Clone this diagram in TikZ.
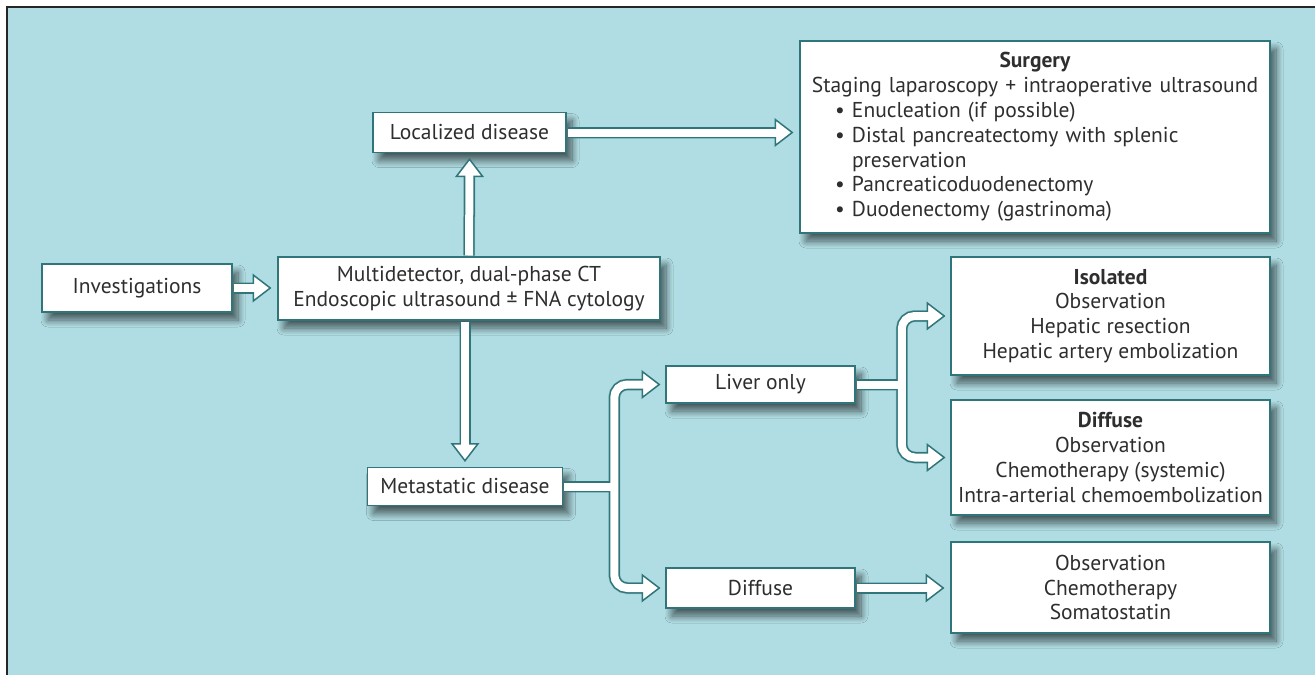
\documentclass[tikz,border=0pt]{standalone}
\usepackage{fontspec}
\setmainfont{PT Sans}
\usetikzlibrary{calc,shadows.blur}
\definecolor{bg}{HTML}{B0DDE3}
\definecolor{edge}{HTML}{2F7579}
\definecolor{shade}{HTML}{3C8A8F}
\definecolor{txt}{HTML}{2E2E2E}
\newcommand\headR[1]{\draw[headst] (#1) -- ++(-17,-13) -- ++(0,26) -- cycle;}
\newcommand\headU[1]{\draw[headst] (#1) -- ++(-13,17) -- ++(26,0) -- cycle;}
\newcommand\headD[1]{\draw[headst] (#1) -- ++(-13,-17) -- ++(26,0) -- cycle;}
\newcommand\shR[1]{\fill[shade,opacity=0.35] (#1) -- ++(-17,-13) -- ++(0,26) -- cycle;}
\newcommand\shU[1]{\fill[shade,opacity=0.35] (#1) -- ++(-13,17) -- ++(26,0) -- cycle;}
\newcommand\shD[1]{\fill[shade,opacity=0.35] (#1) -- ++(-13,-17) -- ++(26,0) -- cycle;}
\newcommand\bul{\hspace*{35pt}\makebox[17pt][l]{\textbullet}}
\tikzset{
  box/.style={draw=edge, fill=white, line width=1.5pt, inner sep=0pt, align=center,
    text=txt, font=\fontsize{21.5}{24.8}\selectfont,
    blur shadow={shadow xshift=6pt, shadow yshift=-8pt, shadow blur radius=7pt,
      shadow blur steps=12, shadow opacity=60}},
  shaftout/.style={draw=edge, line width=11pt, rounded corners=13pt},
  shaftin/.style={draw=white, line width=8pt, rounded corners=13pt},
  shaftsh/.style={draw=shade, line width=12pt, opacity=0.4, rounded corners=13pt},
  headst/.style={draw=edge, fill=white, line width=1.5pt, line join=miter},
}
\begin{document}
\begin{tikzpicture}[x=1pt,y=-1pt]
\useasboundingbox (0,0) rectangle (1315,675);
\fill[bg] (7,7) rectangle (1315,675);
\draw[black!85, line width=2.5pt] (7,675) -- (7,7) -- (1315,7);

% boxes
\node[box, minimum width=190, minimum height=48] (inv) at (137,288) {Investigations};
\node[box, minimum width=382, minimum height=63] (mdct) at (469,288.5)
  {Multidetector, dual-phase CT\\Endoscopic ultrasound ± FNA cytology};
\node[box, minimum width=193, minimum height=40] (loc) at (469.5,132.5) {Localized disease};
\node[box, minimum width=470, minimum height=192, text width=470, align=left] (surg) at (1035,137)
  {\makebox[470pt][c]{\textbf{Surgery}}\\
   \makebox[470pt][c]{Staging laparoscopy + intraoperative ultrasound}\\
   \bul Enucleation (if possible)\\
   \bul Distal pancreatectomy with splenic\\
   \hspace*{52pt}preservation\\
   \bul Pancreaticoduodenectomy\\
   \bul Duodenectomy (gastrinoma)};
\node[box, minimum width=195, minimum height=38] (met) at (465,486.5) {Metastatic disease};
\node[box, minimum width=189, minimum height=37] (liver) at (760.5,384.5) {Liver only};
\node[box, minimum width=189, minimum height=40] (diff) at (760.5,588) {Diffuse};
\node[box, minimum width=319, minimum height=118] (iso) at (1110.5,316)
  {\textbf{Isolated}\\Observation\\Hepatic resection\\Hepatic artery embolization};
\node[box, minimum width=319, minimum height=115] (dbox) at (1110.5,457.5)
  {\textbf{Diffuse}\\Observation\\Chemotherapy (systemic)\\Intra-arterial chemoembolization};
\node[box, minimum width=319, minimum height=91] (other) at (1110.5,587.5)
  {Observation\\Chemotherapy\\Somatostatin};

% key points
\coordinate (aS) at ($(inv.east)+(0.75,0)$);
\coordinate (aT) at ($(mdct.west |- inv.east)+(-7,0)$);
\coordinate (bS) at ($(mdct.north)+(0,-0.75)$);
\coordinate (bT) at ($(loc.south)+(0,6)$);
\coordinate (cS) at ($(mdct.south -| met.north)+(0,0.75)$);
\coordinate (cT) at ($(met.north)+(0,-6)$);
\coordinate (dS) at ($(loc.east)+(0.75,0)$);
\coordinate (dT) at ($(surg.west |- loc.east)+(-7,0)$);
\coordinate (eS) at ($(diff.east)+(0.75,0)$);
\coordinate (eT) at ($(other.west |- diff.east)+(-7,0)$);
\coordinate (mS) at ($(met.east)+(0.75,0)$);
\coordinate (j1) at ($(met.east)+(51,0)$);
\coordinate (m1T) at ($(liver.west)+(-6,0)$);
\coordinate (m2T) at ($(diff.west)+(-6,0)$);
\coordinate (lS) at ($(liver.east)+(0.75,0)$);
\coordinate (j2) at ($(liver.east)+(46,0)$);
\coordinate (l1T) at ($(iso.west)+(-6,0)$);
\coordinate (l2T) at ($(dbox.west)+(-6,0)$);

% shadows of arrows
\begin{scope}[shift={(4,6)}]
  \draw[shaftsh] (aS) -- ($(aT)+(-17,0)$); \shR{aT}
  \draw[shaftsh] (bS) -- ($(bT)+(0,17)$); \shU{bT}
  \draw[shaftsh] (cS) -- ($(cT)+(0,-17)$); \shD{cT}
  \draw[shaftsh] (dS) -- ($(dT)+(-17,0)$); \shR{dT}
  \draw[shaftsh] (eS) -- ($(eT)+(-17,0)$); \shR{eT}
  \draw[shaftsh] (mS) -- (j1);
  \draw[shaftsh] ($(m1T)+(-17,0)$) -- (j1 |- m1T) -- (j1 |- m2T) -- ($(m2T)+(-17,0)$);
  \shR{m1T} \shR{m2T}
  \draw[shaftsh] (lS) -- (j2);
  \draw[shaftsh] ($(l1T)+(-17,0)$) -- (j2 |- l1T) -- (j2 |- l2T) -- ($(l2T)+(-17,0)$);
  \shR{l1T} \shR{l2T}
\end{scope}

% dark outlines of shafts
\draw[shaftout] (aS) -- ($(aT)+(-17,0)$);
\draw[shaftout] (bS) -- ($(bT)+(0,17)$);
\draw[shaftout] (cS) -- ($(cT)+(0,-17)$);
\draw[shaftout] (dS) -- ($(dT)+(-17,0)$);
\draw[shaftout] (eS) -- ($(eT)+(-17,0)$);
\draw[shaftout] (mS) -- (j1);
\draw[shaftout] ($(m1T)+(-17,0)$) -- (j1 |- m1T) -- (j1 |- m2T) -- ($(m2T)+(-17,0)$);
\draw[shaftout] (lS) -- (j2);
\draw[shaftout] ($(l1T)+(-17,0)$) -- (j2 |- l1T) -- (j2 |- l2T) -- ($(l2T)+(-17,0)$);

% heads
\headR{aT} \headU{bT} \headD{cT} \headR{dT} \headR{eT}
\headR{m1T} \headR{m2T} \headR{l1T} \headR{l2T}

% white cores
\draw[shaftin] (aS) -- ($(aT)+(-14,0)$);
\draw[shaftin] (bS) -- ($(bT)+(0,14)$);
\draw[shaftin] (cS) -- ($(cT)+(0,-14)$);
\draw[shaftin] (dS) -- ($(dT)+(-14,0)$);
\draw[shaftin] (eS) -- ($(eT)+(-14,0)$);
\draw[shaftin] (mS) -- (j1);
\draw[shaftin] ($(m1T)+(-14,0)$) -- (j1 |- m1T) -- (j1 |- m2T) -- ($(m2T)+(-14,0)$);
\draw[shaftin] (lS) -- (j2);
\draw[shaftin] ($(l1T)+(-14,0)$) -- (j2 |- l1T) -- (j2 |- l2T) -- ($(l2T)+(-14,0)$);
\end{tikzpicture}
\end{document}
